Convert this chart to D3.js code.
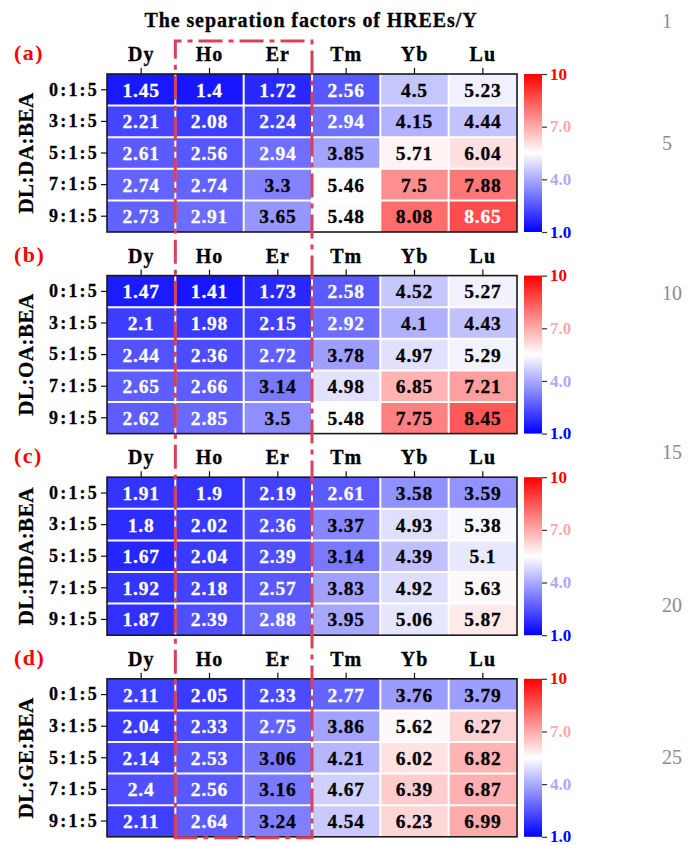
<!DOCTYPE html>
<html>
<head>
<meta charset="utf-8">
<script src="https://cdn.jsdelivr.net/npm/d3@7"></script>
<style>
  body { margin: 0; background: #fff; }
  svg { display: block; }
  text { font-family: "Liberation Serif", "Times New Roman", serif; }
</style>
</head>
<body>
<svg id="chart" width="689" height="845"></svg>
<script>
// ---- data ----
const title = "The separation factors of HREEs/Y";
const elements = ["Dy", "Ho", "Er", "Tm", "Yb", "Lu"];
const ratios = ["0:1:5", "3:1:5", "5:1:5", "7:1:5", "9:1:5"];
const panelLabels = ["(a)", "(b)", "(c)", "(d)"];
const systems = ["DL:DA:BEA", "DL:OA:BEA", "DL:HDA:BEA", "DL:GE:BEA"];

const valuesDA = [
    [1.45, 1.4, 1.72, 2.56, 4.5, 5.23],
    [2.21, 2.08, 2.24, 2.94, 4.15, 4.44],
    [2.61, 2.56, 2.94, 3.85, 5.71, 6.04],
    [2.74, 2.74, 3.3, 5.46, 7.5, 7.88],
    [2.73, 2.91, 3.65, 5.48, 8.08, 8.65]
];
const valuesOA = [
    [1.47, 1.41, 1.73, 2.58, 4.52, 5.27],
    [2.1, 1.98, 2.15, 2.92, 4.1, 4.43],
    [2.44, 2.36, 2.72, 3.78, 4.97, 5.29],
    [2.65, 2.66, 3.14, 4.98, 6.85, 7.21],
    [2.62, 2.85, 3.5, 5.48, 7.75, 8.45]
];
const valuesHDA = [
    [1.91, 1.9, 2.19, 2.61, 3.58, 3.59],
    [1.8, 2.02, 2.36, 3.37, 4.93, 5.38],
    [1.67, 2.04, 2.39, 3.14, 4.39, 5.1],
    [1.92, 2.18, 2.57, 3.83, 4.92, 5.63],
    [1.87, 2.39, 2.88, 3.95, 5.06, 5.87]
];
const valuesGE = [
    [2.11, 2.05, 2.33, 2.77, 3.76, 3.79],
    [2.04, 2.33, 2.75, 3.86, 5.62, 6.27],
    [2.14, 2.53, 3.06, 4.21, 6.02, 6.82],
    [2.4, 2.56, 3.16, 4.67, 6.39, 6.87],
    [2.11, 2.64, 3.24, 4.54, 6.23, 6.99]
];
const colorTicks = [10, 7, 4, 1];
const colorTickLabels = ["10", "7.0", "4.0", "1.0"];
const lineNumbers = ["1", "5", "10", "15", "20", "25"];

// ---- layout ----
const panels = [valuesDA, valuesOA, valuesHDA, valuesGE];
const left = 107, right = 517;
const firstTop = 74, panelStep = 201.6, panelH = 158;
const barX = 524, barW = 18;
const lineNumberY = [21, 143, 293, 452, 605, 757];

const svg = d3.select("#chart");

const color = d3.scaleLinear()
    .domain([1, 5.5, 10])
    .range(["#0000ff", "#ffffff", "#ff0000"]);

const x = d3.scaleBand().domain(elements).range([left, right]);

// colour bar gradient
const grad = svg.append("defs").append("linearGradient")
    .attr("id", "cbar")
    .attr("x1", 0).attr("y1", 1).attr("x2", 0).attr("y2", 0);
grad.selectAll("stop")
    .data([1, 5.5, 10])
    .enter().append("stop")
    .attr("offset", d => (d - 1) / 9)
    .attr("stop-color", d => color(d));

// title
svg.append("text")
    .attr("x", 311).attr("y", 27)
    .attr("text-anchor", "middle")
    .attr("font-size", 20).attr("font-weight", "bold")
    .attr("letter-spacing", 0.9)
    .attr("stroke", "#000").attr("stroke-width", 0.3)
    .text(title);

panels.forEach(function(values, p) {
    const top = firstTop + p * panelStep;
    const y = d3.scaleBand().domain(ratios).range([top, top + panelH]);
    const g = svg.append("g");

    // cells
    const cells = [];
    values.forEach((row, i) => row.forEach((v, j) => cells.push({r: ratios[i], c: elements[j], v: v})));

    g.selectAll("rect.cell")
        .data(cells)
        .enter().append("rect")
        .attr("class", "cell")
        .attr("x", d => x(d.c))
        .attr("y", d => y(d.r))
        .attr("width", x.bandwidth())
        .attr("height", y.bandwidth())
        .attr("fill", d => color(d.v));

    // white separators
    elements.slice(1).forEach(c => {
        g.append("line")
            .attr("x1", x(c)).attr("x2", x(c))
            .attr("y1", top).attr("y2", top + panelH)
            .attr("stroke", "#fff").attr("stroke-width", 2);
    });
    ratios.slice(1).forEach(r => {
        g.append("line")
            .attr("x1", left).attr("x2", right)
            .attr("y1", y(r)).attr("y2", y(r))
            .attr("stroke", "#fff").attr("stroke-width", 2);
    });

    g.selectAll("text.val")
        .data(cells)
        .enter().append("text")
        .attr("class", "val")
        .attr("x", d => x(d.c) + x.bandwidth() / 2)
        .attr("y", d => y(d.r) + y.bandwidth() / 2)
        .attr("dy", "0.36em")
        .attr("text-anchor", "middle")
        .attr("font-size", 19.5).attr("font-weight", "bold")
        .attr("letter-spacing", 0.8)
        .attr("fill", d => (d.v < 3 || d.v > 8.5) ? "#fff" : "#000")
        .attr("stroke", d => (d.v < 3 || d.v > 8.5) ? "#fff" : "#000")
        .attr("stroke-width", 0.3)
        .text(d => d.v);

    // border
    g.append("rect")
        .attr("x", left).attr("y", top)
        .attr("width", right - left).attr("height", panelH)
        .attr("fill", "none").attr("stroke", "#1a1a1a").attr("stroke-width", 1.6);

    // top axis
    const xAxis = g.append("g")
        .attr("transform", "translate(0," + top + ")")
        .call(d3.axisTop(x).tickSize(6).tickPadding(7));
    xAxis.select(".domain").remove();
    xAxis.selectAll("line").attr("stroke", "#111").attr("stroke-width", 1.2);
    xAxis.selectAll("text")
        .attr("font-family", "Liberation Serif, serif")
        .attr("font-size", 20).attr("font-weight", "bold")
        .attr("letter-spacing", 1).attr("fill", "#000")
        .attr("stroke", "#000").attr("stroke-width", 0.3);

    // left axis
    const yAxis = g.append("g")
        .attr("transform", "translate(" + left + ",0)")
        .call(d3.axisLeft(y).tickSize(6).tickPadding(2));
    yAxis.select(".domain").remove();
    yAxis.selectAll("line").attr("stroke", "#111").attr("stroke-width", 1.2);
    yAxis.selectAll("text")
        .attr("font-family", "Liberation Serif, serif")
        .attr("font-size", 18).attr("font-weight", "bold")
        .attr("letter-spacing", 2.2).attr("fill", "#000")
        .attr("stroke", "#000").attr("stroke-width", 0.3);

    // system title
    g.append("text")
        .attr("transform", "translate(33," + (top + panelH / 2) + ") rotate(-90)")
        .attr("text-anchor", "middle")
        .attr("font-size", 21).attr("font-weight", "bold")
        .attr("letter-spacing", 0.5)
        .attr("stroke", "#000").attr("stroke-width", 0.3)
        .text(systems[p]);

    // panel label
    g.append("text")
        .attr("x", 14).attr("y", top - 14)
        .attr("font-size", 22).attr("font-weight", "bold")
        .attr("letter-spacing", 1.5)
        .attr("fill", "#ff0000")
        .text(panelLabels[p]);

    // colour bar
    const cy = d3.scaleLinear().domain([1, 10]).range([top + panelH, top]);
    g.append("rect")
        .attr("x", barX).attr("y", top)
        .attr("width", barW).attr("height", panelH)
        .attr("fill", "url(#cbar)");
    const cAxis = g.append("g")
        .attr("transform", "translate(" + (barX + barW) + ",0)")
        .call(d3.axisRight(cy).tickValues(colorTicks).tickSize(5).tickPadding(3)
              .tickFormat((d, i) => colorTickLabels[i]));
    cAxis.select(".domain").remove();
    cAxis.selectAll("line").attr("stroke", "#333").attr("stroke-width", 1.2);
    cAxis.selectAll("text")
        .attr("font-family", "Liberation Serif, serif")
        .attr("font-size", 17).attr("font-weight", "bold")
        .attr("dy", "0.3em")
        .attr("fill", d => color(d));
});

// dashed highlight box around Ho and Er
const boxL = x("Ho"), boxR = x("Er") + x.bandwidth();
const boxTop = 41, boxBottom = firstTop + 3 * panelStep + panelH + 1;
svg.append("path")
    .attr("d", "M" + boxL + "," + boxBottom + "V" + boxTop + "H" + boxR + "V" + boxBottom + "Z")
    .attr("fill", "none")
    .attr("stroke", "#dc4058")
    .attr("stroke-width", 3)
    .attr("stroke-dasharray", "24,6,5,6");

// manuscript line numbers
svg.selectAll("text.ln")
    .data(lineNumbers)
    .enter().append("text")
    .attr("class", "ln")
    .attr("x", 662)
    .attr("y", (d, i) => lineNumberY[i])
    .attr("dy", "0.36em")
    .attr("font-family", "DejaVu Serif, serif")
    .attr("font-size", 20)
    .attr("fill", "#8c8c8c")
    .text(d => d);
</script>
</body>
</html>
